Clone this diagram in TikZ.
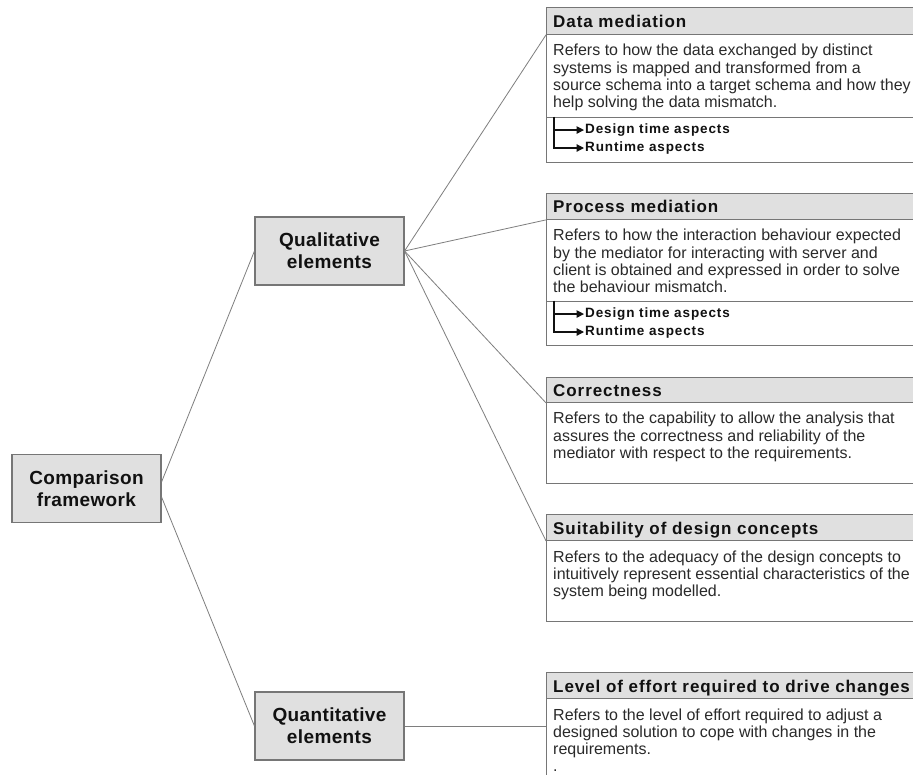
\documentclass[tikz,border=0pt]{standalone}
\usepackage{fontspec}
\setmainfont{Liberation Sans}
\newfontfamily\boxfont{Liberation Sans}[LetterSpace=2]
\newfontfamily\hdfont{Liberation Sans}[LetterSpace=5.5]
\newfontfamily\aspfont{Liberation Sans}[LetterSpace=6.5]
\usetikzlibrary{arrows.meta}
\definecolor{boxgray}{HTML}{E0E0E0}
\definecolor{bordergray}{HTML}{767676}
\definecolor{linegray}{HTML}{7E7E7E}
\definecolor{txt}{HTML}{111111}
\definecolor{bodytxt}{HTML}{2A2A2A}
\tikzset{
 mainbox/.style={draw=bordergray, fill=boxgray, line width=1.1pt, minimum width=149pt, minimum height=68pt, inner sep=0pt, align=center, font=\boxfont\bfseries\fontsize{19}{22}\selectfont, text=txt},
 hdrbox/.style={draw=bordergray, fill=boxgray, line width=0.9pt, anchor=north west, minimum width=384pt, inner sep=0pt},
 bodybox/.style={draw=bordergray, fill=white, line width=0.9pt, anchor=north west, minimum width=384pt, inner sep=0pt},
 hdtext/.style={anchor=base west, inner sep=0pt, font=\hdfont\bfseries\fontsize{17}{20}\selectfont, text=txt},
 bodytext/.style={anchor=base west, inner sep=0pt, font=\fontsize{16}{19}\selectfont, text=bodytxt},
 asptext/.style={anchor=base west, inner sep=0pt, font=\aspfont\bfseries\fontsize{13.5}{15}\selectfont, text=txt},
 link/.style={draw=linegray, line width=0.8pt},
 asparrow/.style={draw=txt, line width=1.2pt, -{Triangle[length=7.5pt,width=7.5pt]}},
}
\begin{document}
\begin{tikzpicture}[x=1pt,y=-1pt]
\useasboundingbox (0,0) rectangle (913,775);
\clip (0,0) rectangle (913,775);
\fill[white] (0,0) rectangle (913,775);

% main boxes
\node[mainbox] (comp) at (86.5,488.5) {Comparison\\framework};
\node[mainbox] (qual) at (329.5,251) {Qualitative\\elements};
\node[mainbox] (quant) at (329.5,726) {Quantitative\\elements};

% Data mediation
\node[hdrbox, minimum height=27pt] (dmH) at (546,7) {};
\node[bodybox, minimum height=83pt] (dmB) at (546,34) {};
\node[bodybox, minimum height=45pt] (dmA) at (546,117) {};
\node[hdtext] (dmT) at (553,28) {Data mediation};
\node[bodytext] (dm1) at (553,56) {Refers to how the data exchanged by distinct};
\node[bodytext] (dm2) at (553,73.3) {systems is mapped and transformed from a};
\node[bodytext] (dm3) at (553,90.6) {source schema into a target schema and how they};
\node[bodytext] (dm4) at (553,107.9) {help solving the data mismatch.};
\node[asptext] (dmD) at (585,133.5) {Design time aspects};
\node[asptext] (dmR) at (585,151.5) {Runtime aspects};
\coordinate (dmS) at ([xshift=8pt]dmA.north west);
\draw[asparrow] (dmS) |- ([xshift=-1pt]dmD.west);
\draw[asparrow] (dmS) |- ([xshift=-1pt]dmR.west);

% Process mediation
\node[hdrbox, minimum height=26pt] (pmH) at (546,193) {};
\node[bodybox, minimum height=82pt] (pmB) at (546,219) {};
\node[bodybox, minimum height=44pt] (pmA) at (546,301) {};
\node[hdtext] (pmT) at (553,213) {Process mediation};
\node[bodytext] (pm1) at (553,241) {Refers to how the interaction behaviour expected};
\node[bodytext] (pm2) at (553,258.3) {by the mediator for interacting with server and};
\node[bodytext] (pm3) at (553,275.6) {client is obtained and expressed in order to solve};
\node[bodytext] (pm4) at (553,292.9) {the behaviour mismatch.};
\node[asptext] (pmD) at (585,317.5) {Design time aspects};
\node[asptext] (pmR) at (585,335.5) {Runtime aspects};
\coordinate (pmS) at ([xshift=8pt]pmA.north west);
\draw[asparrow] (pmS) |- ([xshift=-1pt]pmD.west);
\draw[asparrow] (pmS) |- ([xshift=-1pt]pmR.west);

% Correctness
\node[hdrbox, minimum height=25pt] (coH) at (546,377) {};
\node[bodybox, minimum height=81pt] (coB) at (546,402) {};
\node[hdtext] (coT) at (553,396) {Correctness};
\node[bodytext] (co1) at (553,424) {Refers to the capability to allow the analysis that};
\node[bodytext] (co2) at (553,441.3) {assures the correctness and reliability of the};
\node[bodytext] (co3) at (553,458.6) {mediator with respect to the requirements.};

% Suitability
\node[hdrbox, minimum height=26pt] (suH) at (546,514) {};
\node[bodybox, minimum height=81pt] (suB) at (546,540) {};
\node[hdtext] (suT) at (553,534) {Suitability of design concepts};
\node[bodytext] (su1) at (553,562) {Refers to the adequacy of the design concepts to};
\node[bodytext] (su2) at (553,579.3) {intuitively represent essential characteristics of the};
\node[bodytext] (su3) at (553,596.6) {system being modelled.};

% Level of effort
\node[hdrbox, minimum height=26pt] (lvH) at (546,672) {};
\node[bodybox, minimum height=92pt] (lvB) at (546,698) {};
\node[hdtext] (lvT) at (553,692) {Level of effort required to drive changes};
\node[bodytext] (lv1) at (553,720) {Refers to the level of effort required to adjust a};
\node[bodytext] (lv2) at (553,737.3) {designed solution to cope with changes in the};
\node[bodytext] (lv3) at (553,754.6) {requirements.};
\node[bodytext] (lv4) at (553,771.9) {.};

% connectors
\draw[link] ([yshift=6.5pt]comp.east) -- (qual.west);
\draw[link] ([yshift=-8.5pt]comp.east) -- (quant.west);
\draw[link] (qual.east) -- (dmH.south west);
\draw[link] (qual.east) -- (pmH.south west);
\draw[link] (qual.east) -- (coH.south west);
\draw[link] (qual.east) -- (suH.south west);
\draw[link] (quant.east) -- (quant.east -| lvB.west);
\end{tikzpicture}
\end{document}
